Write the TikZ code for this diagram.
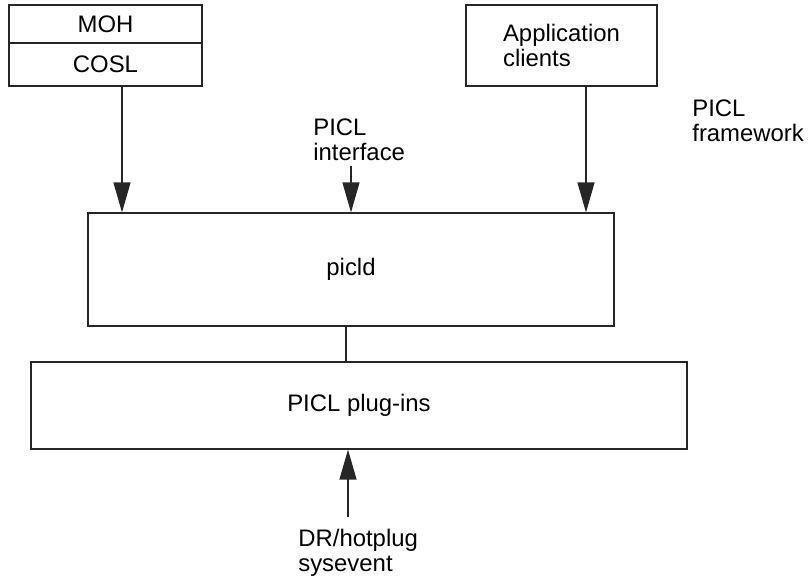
\documentclass[tikz,border=0pt]{standalone}
\usepackage{fontspec}
\setmainfont{Liberation Sans}
\usetikzlibrary{arrows.meta,calc}

\begin{document}
\begin{tikzpicture}[x=0.02cm, y=-0.02cm,
	font=\fontsize{13.6pt}{14.2pt}\selectfont,
	box/.style={draw=black!85, line width=0.7pt, inner sep=0pt},
	lbl/.style={inner sep=0pt, align=left, anchor=west},
	flow/.style={draw=black!85, line width=0.7pt, -{Triangle[length=0.6cm,width=0.34cm]}},
]
	\useasboundingbox (0,0) rectangle (808,577);
	% top boxes
	\node[box, minimum width=3.86cm, minimum height=0.76cm] (moh) at (105.5,24) {MOH};
	\node[box, minimum width=3.86cm, minimum height=0.86cm] (cosl) at (105.5,64.5) {COSL};
	\node[box, minimum width=3.82cm, minimum height=1.62cm, align=left] (app) at (561.5,45.5) {Application\\clients};
	% daemon and plug-ins
	\node[box, minimum width=10.52cm, minimum height=2.26cm] (picld) at (351,269.5) {picld};
	\node[box, minimum width=13.12cm, minimum height=1.74cm] (plugins) at (359,405.5) {PICL plug-ins};
	% free labels
	\node[lbl] (framework) at (692,121) {PICL\\framework};
	\node[lbl] (iface) at (313,140) {PICL\\interface};
	\node[lbl] (sysevent) at (298,553) {DR/hotplug\\sysevent};
	
	% arrows into picld
	\foreach \src/\dx in {cosl/16.5, app/24.5} {
		\draw[flow] ($(\src.south)+(\dx,0)$) -- ($(\src.south |- picld.north)+(\dx,0)$);
	}
	\draw[flow] ($(iface.south -| picld.north)+(0,5)$) -- (picld.north);
	% picld to plug-ins
	\draw[draw=black!85, line width=0.7pt] ($(picld.south)+(-5,0)$) -- ($(picld.south |- plugins.north)+(-5,0)$);
	% sysevent
	\coordinate (ev) at (348,517);
	\draw[flow] (ev) -- (ev |- plugins.south);
\end{tikzpicture}
\end{document}
